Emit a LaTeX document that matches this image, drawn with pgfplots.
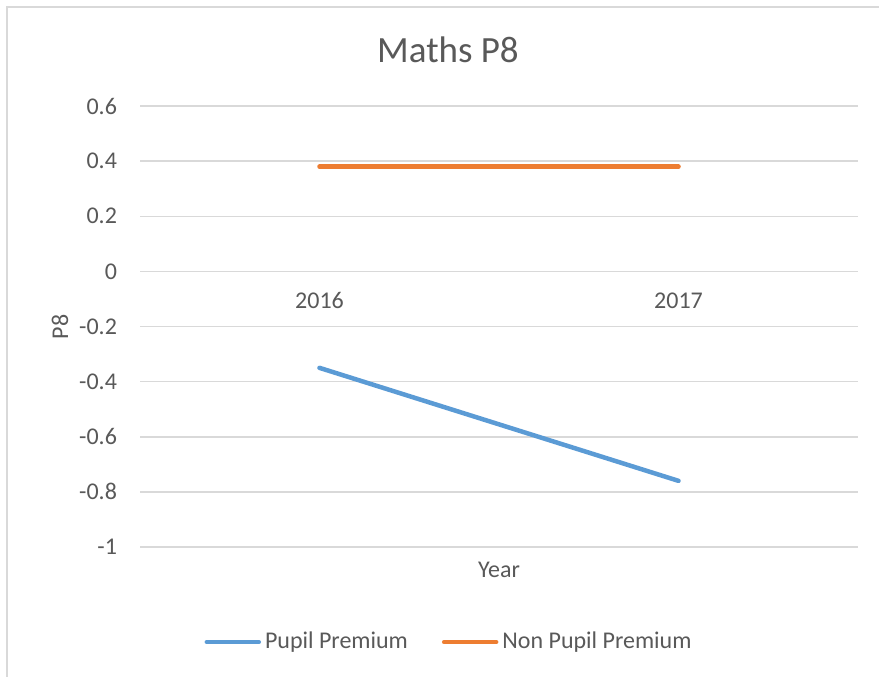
\documentclass[border=0pt]{standalone}
\usepackage{pgfplots}
\pgfplotsset{compat=1.18}
\usepackage{fontspec}
\setmainfont{Carlito}
\definecolor{txt}{HTML}{595959}
\definecolor{gridc}{HTML}{D9D9D9}
\definecolor{ppblue}{HTML}{5B9BD5}
\definecolor{nporange}{HTML}{ED7D31}
\begin{document}
\begin{tikzpicture}[x=0.5pt,y=0.5pt]
\clip (0,0) rectangle (879,676);
\fill[white] (0,0) rectangle (879,676);
\draw[gridc, line width=1pt] (7,-20) -- (7,669) -- (900,669);
\begin{axis}[
  at={(70pt,64.5pt)}, anchor=south west,
  scale only axis, width=359pt, height=220.5pt,
  xmin=-0.5, xmax=1.5, ymin=-1, ymax=0.6,
  axis x line=middle, axis y line*=left,
  x axis line style={draw=gridc, line width=0.75pt, -},
  y axis line style={draw=none},
  xtick={0,1}, xticklabels={2016,2017},
  ytick={-1,-0.8,-0.6,-0.4,-0.2,0,0.2,0.4,0.6},
  yticklabels={-1,-0.8,-0.6,-0.4,-0.2,0,0.2,0.4,0.6},
  major tick length=0pt,
  ymajorgrids, grid style={gridc, line width=0.75pt},
  tick label style={font=\fontsize{12}{14}\selectfont, text=txt},
  yticklabel style={anchor=east, xshift=-8pt},
  xticklabel style={anchor=north, yshift=-7pt},
  clip=false,
  legend style={at={(0.4318,-0.2155)}, anchor=center, draw=none, fill=none,
    legend columns=2, font=\fontsize{12}{14}\selectfont, text=txt,
    /tikz/every even column/.append style={column sep=15pt},
    inner sep=0pt},
  legend image code/.code={\draw[#1, line cap=round] (0pt,0pt) -- (26pt,0pt);},
]
\addplot[ppblue, line width=2.25pt, line cap=round] coordinates {(0,-0.35) (1,-0.76)};
\addlegendentry{Pupil Premium}
\addplot[nporange, line width=2.25pt, line cap=round] coordinates {(0,0.38) (1,0.38)};
\addlegendentry{Non Pupil Premium}
\end{axis}
\node[text=txt, font=\fontsize{18.5}{22}\selectfont] at (448,626) {Maths P8};
\node[text=txt, font=\fontsize{12}{14}\selectfont, rotate=90] at (60,349) {P8};
\node[text=txt, font=\fontsize{12}{14}\selectfont] at (499,106) {Year};
\end{tikzpicture}
\end{document}
